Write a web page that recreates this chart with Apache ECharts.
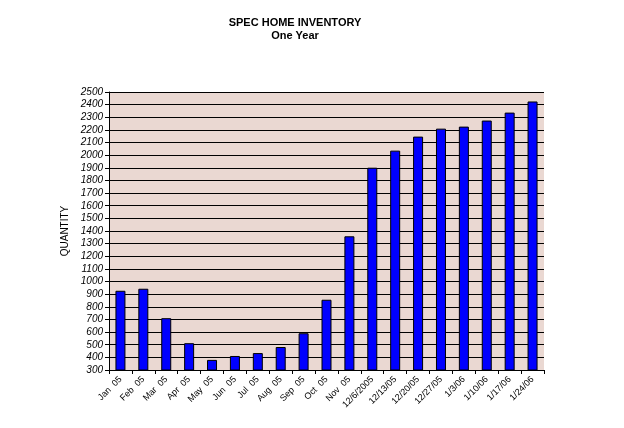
<!DOCTYPE html>
<html>
<head>
<meta charset="utf-8">
<script src="https://cdn.jsdelivr.net/npm/echarts@6/dist/echarts.min.js"></script>
<style>html,body{margin:0;padding:0;background:#fff;}#c{width:624px;height:428px;}</style>
</head>
<body>
<div id="c"></div>
<script>
var categories = ['Jan  05','Feb  05','Mar  05','Apr  05','May  05','Jun  05','Jul  05','Aug  05','Sep  05','Oct  05','Nov  05','12/6/2005','12/13/05','12/20/05','12/27/05','1/3/06','1/10/06','1/17/06','1/24/06'];
var quantity = [927, 943, 710, 512, 380, 411, 434, 482, 591, 856, 1358, 1901, 2036, 2147, 2210, 2226, 2274, 2337, 2425];
var titleText = 'SPEC HOME INVENTORY';
var subtitleText = 'One Year';
var yAxisName = 'QUANTITY';

var chart = echarts.init(document.getElementById('c'), null, {renderer: 'canvas'});
chart.setOption({
  animation: false,
  backgroundColor: '#ffffff',
  title: {
    text: titleText,
    subtext: subtitleText,
    left: 290,
    textAlign: 'center',
    top: 12,
    itemGap: 2,
    textStyle: {fontFamily: 'Liberation Sans, Arial', fontWeight: 'bold', fontSize: 11, color: '#000'},
    subtextStyle: {fontFamily: 'Liberation Sans, Arial', fontWeight: 'bold', fontSize: 11, color: '#000'}
  },
  grid: {left: 109, right: 80, top: 92, bottom: 58, show: true, backgroundColor: '#ead8d2', borderWidth: 0},
  xAxis: {
    type: 'category',
    data: categories,
    axisLine: {lineStyle: {color: '#000', width: 1}},
    axisTick: {show: true, alignWithLabel: false, length: 4, lineStyle: {color: '#000'}},
    axisLabel: {rotate: 45, interval: 0, fontFamily: 'Liberation Sans, Arial', fontSize: 9, color: '#000', margin: 8}
  },
  yAxis: {
    type: 'value',
    min: 300,
    max: 2500,
    interval: 100,
    name: yAxisName,
    nameLocation: 'middle',
    nameGap: 32,
    nameTextStyle: {fontFamily: 'Liberation Sans, Arial', fontSize: 10, color: '#000'},
    axisLine: {show: true, lineStyle: {color: '#000', width: 1}},
    axisTick: {show: true, length: 4, inside: false, lineStyle: {color: '#000'}},
    splitLine: {show: true, lineStyle: {color: '#000', width: 1}},
    axisLabel: {fontFamily: 'Liberation Sans, Arial', fontStyle: 'italic', fontSize: 10, color: '#000', margin: 6,
      formatter: function (v) { return String(v); }}
  },
  series: [{
    type: 'bar',
    data: quantity,
    barWidth: 10,
    itemStyle: {color: '#0000ff', borderColor: '#000', borderWidth: 1}
  }]
});
</script>
</body>
</html>
